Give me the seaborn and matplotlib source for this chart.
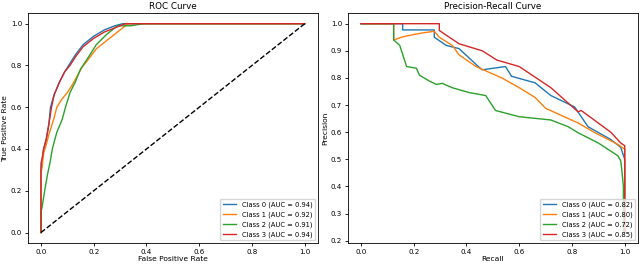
import matplotlib
matplotlib.use("Agg")
import matplotlib.pyplot as plt
import seaborn as sns
import pandas as pd

classes = ["Class 0", "Class 1", "Class 2", "Class 3"]
roc_auc = [0.94, 0.92, 0.91, 0.94]
pr_auc = [0.82, 0.80, 0.72, 0.85]

# ROC curve points (fpr, tpr)
fpr0 = [0, 0, 0.005, 0.01, 0.02, 0.03, 0.036, 0.05, 0.07, 0.09, 0.105, 0.13, 0.16, 0.2, 0.24, 0.28, 0.31, 1.0]
tpr0 = [0, 0.3, 0.35, 0.4, 0.44, 0.52, 0.6, 0.66, 0.72, 0.77, 0.8, 0.85, 0.9, 0.94, 0.97, 0.99, 1.0, 1.0]
fpr1 = [0, 0, 0.005, 0.01, 0.02, 0.03, 0.05, 0.06, 0.08, 0.1, 0.12, 0.155, 0.18, 0.21, 0.24, 0.27, 0.3, 0.33, 1.0]
tpr1 = [0, 0.28, 0.32, 0.38, 0.42, 0.47, 0.55, 0.6, 0.64, 0.67, 0.71, 0.79, 0.83, 0.88, 0.91, 0.94, 0.97, 1.0, 1.0]
fpr2 = [0, 0, 0.004, 0.014, 0.025, 0.035, 0.043, 0.06, 0.08, 0.093, 0.11, 0.13, 0.149, 0.18, 0.21, 0.25, 0.29, 0.34, 0.39, 1.0]
tpr2 = [0, 0.1, 0.12, 0.2, 0.28, 0.34, 0.4, 0.48, 0.54, 0.6, 0.67, 0.72, 0.78, 0.84, 0.9, 0.95, 0.99, 0.99, 1.0, 1.0]
fpr3 = [0, 0, 0.005, 0.01, 0.02, 0.03, 0.04, 0.05, 0.07, 0.09, 0.11, 0.13, 0.16, 0.2, 0.24, 0.28, 0.32, 1.0]
tpr3 = [0, 0.33, 0.36, 0.4, 0.45, 0.52, 0.6, 0.66, 0.72, 0.77, 0.8, 0.84, 0.89, 0.93, 0.96, 0.98, 1.0, 1.0]

# Precision-recall curve points (recall, precision)
rec0 = [0, 0.158, 0.158, 0.278, 0.278, 0.323, 0.372, 0.436, 0.459, 0.548, 0.571, 0.66, 0.72, 0.81, 0.861, 0.947, 0.985, 1.0, 1.0]
prec0 = [1.0, 1.0, 0.977, 0.977, 0.95, 0.92, 0.908, 0.85, 0.83, 0.842, 0.806, 0.782, 0.735, 0.693, 0.62, 0.573, 0.544, 0.5, 0.23]
rec1 = [0, 0.124, 0.124, 0.16, 0.2, 0.24, 0.278, 0.297, 0.346, 0.372, 0.436, 0.534, 0.6, 0.66, 0.7, 0.823, 0.887, 0.974, 1.0, 1.0]
prec1 = [1.0, 1.0, 0.94, 0.952, 0.96, 0.967, 0.972, 0.95, 0.92, 0.885, 0.842, 0.8, 0.764, 0.728, 0.688, 0.634, 0.598, 0.555, 0.537, 0.23]
rec2 = [0, 0.124, 0.124, 0.147, 0.173, 0.21, 0.222, 0.26, 0.286, 0.308, 0.346, 0.41, 0.473, 0.51, 0.6, 0.72, 0.786, 0.823, 0.9, 0.974, 0.985, 0.99, 0.995, 0.995]
prec2 = [1.0, 1.0, 0.94, 0.92, 0.842, 0.836, 0.81, 0.788, 0.776, 0.78, 0.764, 0.746, 0.735, 0.68, 0.657, 0.645, 0.62, 0.598, 0.56, 0.513, 0.494, 0.45, 0.4, 0.23]
rec3 = [0, 0.297, 0.297, 0.335, 0.372, 0.46, 0.515, 0.6, 0.72, 0.823, 0.835, 0.947, 0.985, 1.0, 1.0]
prec3 = [1.0, 1.0, 0.975, 0.95, 0.926, 0.9, 0.866, 0.842, 0.764, 0.675, 0.68, 0.6, 0.56, 0.55, 0.23]

roc_x = [fpr0, fpr1, fpr2, fpr3]
roc_y = [tpr0, tpr1, tpr2, tpr3]
pr_x = [rec0, rec1, rec2, rec3]
pr_y = [prec0, prec1, prec2, prec3]

roc_rows, pr_rows = [], []
for i, c in enumerate(classes):
    lab = f"{c} (AUC = {roc_auc[i]:.2f})"
    for j, (a, b) in enumerate(zip(roc_x[i], roc_y[i])):
        roc_rows.append({"fpr": a, "tpr": b, "label": lab, "order": j})
    lab = f"{c} (AUC = {pr_auc[i]:.2f})"
    for j, (a, b) in enumerate(zip(pr_x[i], pr_y[i])):
        pr_rows.append({"recall": a, "precision": b, "label": lab, "order": j})
roc_df = pd.DataFrame(roc_rows)
pr_df = pd.DataFrame(pr_rows)

palette = sns.color_palette("tab10", 4)
fig, axes = plt.subplots(1, 2, figsize=(6.4, 2.64), dpi=100)

ax = axes[0]
sns.lineplot(data=roc_df, x="fpr", y="tpr", hue="label", palette=palette,
             sort=False, estimator=None, lw=1.0, ax=ax)
ax.plot([0, 1], [0, 1], "k--", lw=1.0)
ax.set_title("ROC Curve", fontsize=6.3, pad=3)
ax.set_xlabel("False Positive Rate", fontsize=5.4, labelpad=1)
ax.set_ylabel("True Positive Rate", fontsize=5.4, labelpad=2)
ax.legend(loc="lower right", fontsize=4.9, title=None, borderaxespad=0.4)

ax = axes[1]
sns.lineplot(data=pr_df, x="recall", y="precision", hue="label", palette=palette,
             sort=False, estimator=None, lw=1.0, ax=ax)
ax.set_title("Precision-Recall Curve", fontsize=6.3, pad=3)
ax.set_xlabel("Recall", fontsize=5.4, labelpad=1)
ax.set_ylabel("Precision", fontsize=5.4, labelpad=2)
ax.legend(loc="lower right", fontsize=4.9, title=None, borderaxespad=0.4)

for ax in axes:
    ax.tick_params(labelsize=5.1, length=2.5, width=0.6, pad=1.5)
    for s in ax.spines.values():
        s.set_linewidth(0.6)

plt.tight_layout(pad=0.15, w_pad=0.3)
fig.savefig("out.png", dpi=100)
